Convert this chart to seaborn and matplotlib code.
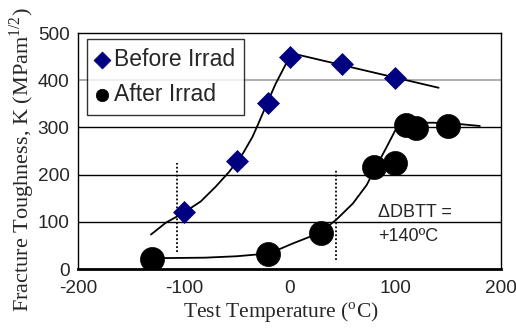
import matplotlib
matplotlib.use("Agg")
import matplotlib.pyplot as plt
import seaborn as sns
import pandas as pd

# --- data ---
before_temp = [-100, -50, -20, 0, 50, 100]
before_k = [120, 228, 352, 450, 435, 404]

after_temp = [-130, -20, 30, 80, 100, 110, 120, 150]
after_k = [22, 31, 77, 217, 225, 305, 298, 303]

# trend curves
before_curve_t = [-131, -117, -101, -84, -70, -57, -44, -35, -30, -22, -13, -3, 2, 6, 141]
before_curve_k = [73, 98, 118, 143, 174, 206, 245, 280, 305, 347, 393, 436, 450, 455, 384]

after_curve_t = [-123, -80, -50, -19, 3, 28, 44, 60, 73, 81, 92, 101, 107, 136, 161, 180]
after_curve_k = [23, 24, 27, 33, 54, 76, 104, 139, 178, 213, 259, 298, 309, 310, 307, 303]

dbtt_lines_t = [-106, 44]
dbtt_lines_lo = [35, 20]
dbtt_lines_hi = [224, 210]

x_ticks = [-200, -100, 0, 100, 200]
y_ticks = [0, 100, 200, 300, 400, 500]

sns.set_theme(style="white")
plt.rcParams["font.family"] = ["Liberation Sans", "DejaVu Sans"]
plt.rcParams["mathtext.fontset"] = "custom"
plt.rcParams["mathtext.rm"] = "Liberation Serif"
plt.rcParams["axes.unicode_minus"] = False

fig = plt.figure(figsize=(5.16, 3.30), dpi=100)
ax = fig.add_axes([78 / 516, 1 - 269 / 330, (501 - 78) / 516, (269 - 33) / 330])

# gridlines
for y in [100, 200, 300]:
    ax.axhline(y, color="black", lw=1.0, zorder=0)
ax.axhline(400, color="#a0a0a0", lw=1.2, zorder=0)

# trend curves
sns.lineplot(x=before_curve_t, y=before_curve_k, sort=False, estimator=None,
             color="black", lw=1.3, ax=ax, zorder=2)
sns.lineplot(x=after_curve_t, y=after_curve_k, sort=False, estimator=None,
             color="black", lw=1.3, ax=ax, zorder=2)

# DBTT dotted lines
for t, lo, hi in zip(dbtt_lines_t, dbtt_lines_lo, dbtt_lines_hi):
    ax.plot([t, t], [lo, hi], color="black", lw=1.3, ls=(0, (1, 1.2)), zorder=2)

# points
df_b = pd.DataFrame({"t": before_temp, "k": before_k})
df_a = pd.DataFrame({"t": after_temp, "k": after_k})
sns.scatterplot(data=df_b, x="t", y="k", marker="D", s=125, color="#000080",
                edgecolor="#000080", linewidth=0.5, ax=ax, zorder=3, label="Before Irrad")
sns.scatterplot(data=df_a, x="t", y="k", marker="o", s=300, color="black",
                edgecolor="black", linewidth=0.5, ax=ax, zorder=3, label="After Irrad")

ax.text(84, 120, "\u0394DBTT =", fontsize=13, ha="left", va="center")
ax.text(84, 68, "+140\u00baC", fontsize=13, ha="left", va="center")

ax.set_xlim(-200, 200)
ax.set_ylim(0, 500)
ax.set_xticks(x_ticks)
ax.set_yticks(y_ticks)
ax.tick_params(axis="x", direction="in", length=4, width=1, labelsize=13.7, pad=8, color="black")
ax.tick_params(axis="y", length=0, labelsize=13.7, pad=6)
for side in ["top", "right", "left"]:
    ax.spines[side].set_color("black")
    ax.spines[side].set_linewidth(1.0)
ax.spines["bottom"].set_color("black")
ax.spines["bottom"].set_linewidth(2.0)

ax.set_xlabel(r"Test Temperature ($^{\mathrm{o}}$C)", family="Liberation Serif",
              fontsize=15.5)
ax.set_ylabel(r"Fracture Toughness, K (MPam$^{\mathrm{1/2}}$)", family="Liberation Serif",
              fontsize=16)
ax.xaxis.set_label_coords((281 - 78) / 423, -(313 - 269) / 236, transform=ax.transAxes)
ax.yaxis.set_label_coords(-(78 - 22) / 423, (269 - 160) / 236, transform=ax.transAxes)
ax.xaxis.label.set_va("center")
ax.yaxis.label.set_va("center")

leg = ax.legend(loc="upper left", bbox_to_anchor=(0.022, 0.975), frameon=True,
                fontsize=16.5, handletextpad=0.25, borderpad=0.4, labelspacing=0.5,
                handlelength=0.5, markerscale=1.0, fancybox=False, borderaxespad=0)
leg.get_frame().set_edgecolor("black")
leg.get_frame().set_linewidth(1.0)
leg.legend_handles[0].set_sizes([75])
leg.legend_handles[1].set_sizes([80])

fig.savefig("out.png", dpi=100)
